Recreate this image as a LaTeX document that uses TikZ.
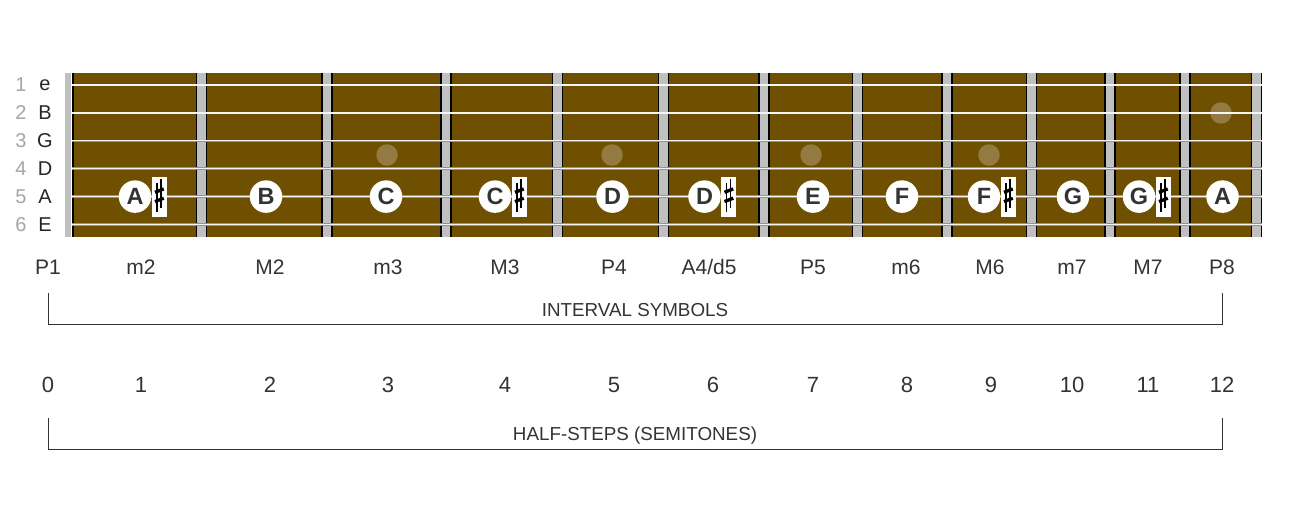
\documentclass[tikz,border=0pt]{standalone}
\usepackage{fontspec}
\setmainfont{Liberation Sans}
\usetikzlibrary{positioning}

\definecolor{board}{RGB}{110,80,0}
\definecolor{fretgrey}{RGB}{192,192,192}
\definecolor{dotcol}{RGB}{146,122,64}
\definecolor{txt}{RGB}{51,51,51}
\definecolor{numgrey}{RGB}{165,165,165}

% sharp sign drawn inside a white box node
\newcommand{\sharpsign}[1]{%
  \draw[line width=1.5pt] ([shift={(-2,-13.5)}]#1.center) -- ([shift={(-2,15)}]#1.center)
        ([shift={(2,-18)}]#1.center) -- ([shift={(2,11.5)}]#1.center);
  \draw[line width=3.3pt] ([shift={(-4.2,-4.3)}]#1.center) -- ([shift={(4.6,-7.7)}]#1.center)
        ([shift={(-4.2,5)}]#1.center) -- ([shift={(4.6,1.6)}]#1.center);}

\begin{document}
\begin{tikzpicture}[x=1pt, y=-1pt,
fret/.style={draw=black, line width=1.7pt, double=fretgrey, double distance=8.5pt},
gstring/.style={draw=gray!85, line width=0.6pt, double=white!92!gray, double distance=1.3pt},
fdot/.style={circle, fill=dotcol, minimum size=21.5pt, inner sep=0pt},
note/.style={circle, fill=white, minimum size=32.5pt, inner sep=0pt, text=txt,
      font=\fontsize{23.5}{23.5}\selectfont\bfseries},
shp/.style={rectangle, fill=white, minimum width=15pt, minimum height=40pt, inner sep=0pt},
ivl/.style={text=txt, text depth=0pt, font=\fontsize{21}{21}\selectfont},
hstep/.style={text=txt, font=\fontsize{22}{22}\selectfont},
captxt/.style={text=txt, text depth=0pt, font=\fontsize{18.8}{18.8}\selectfont},
strnum/.style={text=numgrey, font=\fontsize{20}{20}\selectfont},
strname/.style={text=black!85, font=\fontsize{20}{20}\selectfont},
brk/.style={draw=txt, line width=1pt}]
\useasboundingbox (0,0) rectangle (1292,529);

 % board and nut
 \fill[board] (72,73) rectangle (1262,237);
 \fill[fretgrey] (65,73) rectangle (71,237);
 \draw[black, line width=1.6pt] (72.8,73) -- (72.8,237);

 % frets
 \draw[fret] (201.5,73) -- (201.5,237);
 \draw[fret] (327,73) -- (327,237);
 \draw[fret] (446,73) -- (446,237);
 \draw[fret] (557.5,73) -- (557.5,237);
 \draw[fret] (663.5,73) -- (663.5,237);
 \draw[fret] (764,73) -- (764,237);
 \draw[fret] (857.5,73) -- (857.5,237);
 \draw[fret] (947,73) -- (947,237);
 \draw[fret] (1031.5,73) -- (1031.5,237);
 \draw[fret] (1110,73) -- (1110,237);
 \draw[fret] (1185,73) -- (1185,237);
 \draw[fret] (1256.5,73) -- (1256.5,237);

 % position dots
 \node[fdot] (d3) at (387,155) {};
 \node[fdot] (d5) at (612,155) {};
 \node[fdot] (d7) at (811,155) {};
 \node[fdot] (d9) at (989,155) {};
 \node[fdot] (d12) at (1221,113) {};

 % strings
 \draw[gstring] (72,85) -- (1262,85);
 \draw[gstring] (72,112.9) -- (1262,112.9);
 \draw[gstring] (72,140.8) -- (1262,140.8);
 \draw[gstring] (72,168.7) -- (1262,168.7);
 \draw[gstring] (72,196.6) -- (1262,196.6);
 \draw[gstring] (72,224.5) -- (1262,224.5);

 % string names
 \node[strnum] (s1) at (21,85) {1};
 \node[strnum] (s2) at (21,112.9) {2};
 \node[strnum] (s3) at (21,140.8) {3};
 \node[strnum] (s4) at (21,168.7) {4};
 \node[strnum] (s5) at (21,196.6) {5};
 \node[strnum] (s6) at (21,224.5) {6};
 \node[strname] (e1) at (45,85) {e};
 \node[strname] (b2) at (45,112.9) {B};
 \node[strname] (g3) at (45,140.8) {G};
 \node[strname] (d4) at (45,168.7) {D};
 \node[strname] (a5) at (45,196.6) {A};
 \node[strname] (e6) at (45,224.5) {E};

 % notes on the A string
 \node[note] (ais) at (135,196.6) {A};
 \node[shp, right=0pt of ais] (aissh) {};
 \sharpsign{aissh}
 \node[note] (b) at (266,196.6) {B};
 \node[note] (c) at (386,196.6) {C};
 \node[note] (cis) at (495,196.6) {C};
 \node[shp, right=0pt of cis] (cissh) {};
 \sharpsign{cissh}
 \node[note] (d) at (612.5,196.6) {D};
 \node[note] (dis) at (704.5,196.6) {D};
 \node[shp, right=0pt of dis] (dissh) {};
 \sharpsign{dissh}
 \node[note] (e) at (813,196.6) {E};
 \node[note] (f) at (902,196.6) {F};
 \node[note] (fis) at (984,196.6) {F};
 \node[shp, right=0pt of fis] (fissh) {};
 \sharpsign{fissh}
 \node[note] (g) at (1073,196.6) {G};
 \node[note] (gis) at (1139,196.6) {G};
 \node[shp, right=0pt of gis] (gissh) {};
 \sharpsign{gissh}
 \node[note] (a) at (1222.5,196.6) {A};

 % interval symbols
 \node[ivl] (p1) at (48,267) {P1};
 \node[ivl] (m2) at (141,267) {m2};
 \node[ivl] (M2) at (270,267) {M2};
 \node[ivl] (m3) at (388,267) {m3};
 \node[ivl] (M3) at (505,267) {M3};
 \node[ivl] (p4) at (614,267) {P4};
 \node[ivl] (a4) at (709,267) {A4/d5};
 \node[ivl] (p5) at (813,267) {P5};
 \node[ivl] (m6) at (906,267) {m6};
 \node[ivl] (M6) at (990,267) {M6};
 \node[ivl] (m7) at (1072,267) {m7};
 \node[ivl] (M7) at (1148,267) {M7};
 \node[ivl] (p8) at (1222,267) {P8};

 \coordinate (ia) at (48,293);
 \coordinate (ib) at (48,324);
 \coordinate (ic) at (1222,324);
 \coordinate (id) at (1222,293);
 \draw[brk] (ia) -- (ib) -- (ic) -- (id);
 \node[captxt] (icap) at (635,310) {INTERVAL SYMBOLS};

 % half-steps
 \node[hstep] (h0) at (48,385) {0};
 \node[hstep] (h1) at (141,385) {1};
 \node[hstep] (h2) at (270,385) {2};
 \node[hstep] (h3) at (388,385) {3};
 \node[hstep] (h4) at (505,385) {4};
 \node[hstep] (h5) at (614,385) {5};
 \node[hstep] (h6) at (713,385) {6};
 \node[hstep] (h7) at (813,385) {7};
 \node[hstep] (h8) at (907,385) {8};
 \node[hstep] (h9) at (991,385) {9};
 \node[hstep] (h10) at (1072,385) {10};
 \node[hstep] (h11) at (1148,385) {11};
 \node[hstep] (h12) at (1222,385) {12};

 \coordinate (ha) at (48,418);
 \coordinate (hb) at (48,449);
 \coordinate (hc) at (1222,449);
 \coordinate (hd) at (1222,418);
 \draw[brk] (ha) -- (hb) -- (hc) -- (hd);
 \node[captxt] (hcap) at (635,434) {HALF-STEPS (SEMITONES)};

\end{tikzpicture}
\end{document}
